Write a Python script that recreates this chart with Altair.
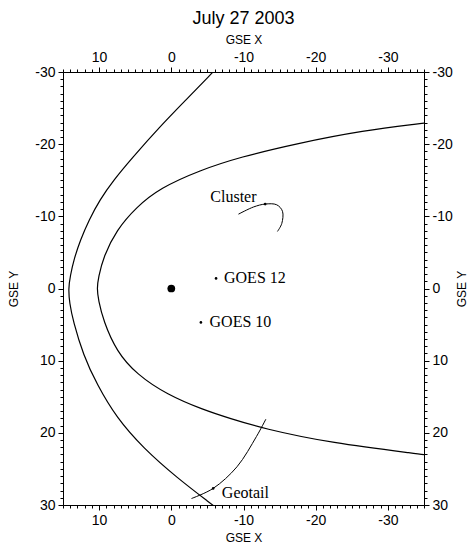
import altair as alt
import pandas as pd

# Bow shock (GSE X, GSE Y), top to bottom
bow_x = [-6.4, -5.6, -2.0, 1.6, 5.5, 8.0, 9.9, 11.4, 12.6, 13.5, 14.0, 14.25, 14.1, 13.6, 12.2, 10.3, 7.6, 3.9, -0.75, -5.6, -6.5]
bow_y = [-30.7, -29.8, -26.1, -22.4, -18.0, -15.0, -12.3, -9.5, -6.7, -4.0, -1.7, 0.0, 2.0, 4.5, 9.2, 13.3, 17.9, 22.1, 26.2, 29.9, 30.6]

# Magnetopause
mp_x = [-35.5, -34.9, -26.6, -17.4, -9.5, -4.0, 1.6, 4.8, 7.6, 9.4, 10.1, 10.3, 10.1, 9.4, 7.6, 4.8, 0.6, -4.4, -8.1, -12.7, -22.0, -34.9, -35.5]
mp_y = [-23.0, -22.9, -21.9, -20.1, -18.2, -16.4, -13.9, -11.3, -8.1, -4.4, -1.5, 0.0, 1.6, 4.5, 8.7, 11.9, 14.7, 16.8, 18.0, 19.4, 21.4, 23.0, 23.1]

# Geotail track
geo_x = [-2.8, -5.8, -9.1, -11.8, -13.1]
geo_y = [29.1, 27.7, 24.7, 20.5, 18.1]

# Cluster track
clu_x = [-9.3, -11.4, -13.0, -14.6, -15.4, -15.3, -14.7]
clu_y = [-10.3, -11.3, -11.7, -11.6, -10.7, -9.0, -7.9]

# small position dots
dot_x = [-6.2, -4.1, -5.8, -13.0]
dot_y = [-1.4, 4.7, 27.7, -11.7]

# Earth
earth_x = [0.0]
earth_y = [0.0]

# labels
lab_text = ["Cluster", "GOES 12", "GOES 10", "Geotail"]
lab_x = [-5.4, -7.3, -5.3, -7.0]
lab_y = [-12.7, -1.4, 4.7, 28.4]

# axis tick values: minor every unit, major every ten
x_ticks = list(range(-35, 16))
y_ticks = list(range(-30, 31))
x_major = [10, 0, -10, -20, -30]
y_major = [-30, -20, -10, 0, 10, 20, 30]


def curve(name, xs, ys):
    return pd.DataFrame({"x": xs, "y": ys, "i": list(range(len(xs))), "name": name})


curves = pd.concat([
    curve("bow", bow_x, bow_y),
    curve("mp", mp_x, mp_y),
])
tracks = pd.concat([
    curve("geotail", geo_x, geo_y),
    curve("cluster", clu_x, clu_y),
])
dots = pd.DataFrame({"x": dot_x, "y": dot_y})
earth = pd.DataFrame({"x": earth_x, "y": earth_y})
labels = pd.DataFrame({"x": lab_x, "y": lab_y, "t": lab_text})

xs = alt.Scale(domain=[-35, 15], reverse=True, nice=False, zero=False)
ys = alt.Scale(domain=[-30, 30], reverse=True, nice=False, zero=False)

lab_expr = "datum.value % 10 === 0 ? '' + datum.value : ''"

style = dict(
    grid=False,
    domainColor="black",
    tickColor="black",
    labelColor="black",
    titleColor="black",
    tickWidth=1,
    labelFont="Liberation Sans",
    labelFontSize=14,
    titleFont="Liberation Sans",
    titleFontSize=12,
    titleFontWeight="normal",
)

minor = dict(labelExpr=lab_expr, tickSize=3, labelPadding=5, labelOverlap=False, **style)
major = dict(tickSize=5, labels=False, domain=False, title=None, **style)


def xaxis(orient, tp):
    return alt.Axis(orient=orient, values=x_ticks, title="GSE X",
                    labelFlush=False, titlePadding=tp, **minor)


def yaxis(orient, tp, **kw):
    return alt.Axis(orient=orient, values=y_ticks, title="GSE Y",
                    titlePadding=tp, **minor, **kw)


def xmajor(orient):
    return alt.Axis(orient=orient, values=x_major, **major)


def ymajor(orient):
    return alt.Axis(orient=orient, values=y_major, **major)


base_curves = alt.Chart(curves).mark_line(color="black", strokeWidth=1.2, clip=True, interpolate="basis")

layer_a = base_curves.transform_filter("datum.name === 'bow'").encode(
    x=alt.X("x:Q", scale=xs, axis=xaxis("bottom", 5)),
    y=alt.Y("y:Q", scale=ys, axis=yaxis("left", 14)),
    order="i:Q",
)
layer_b = base_curves.transform_filter("datum.name === 'mp'").encode(
    x=alt.X("x:Q", scale=xs, axis=xaxis("top", 4)),
    y=alt.Y("y:Q", scale=ys, axis=yaxis("right", 4, titleAngle=270, titleBaseline="top")),
    order="i:Q",
)

track_layer = alt.Chart(tracks).mark_line(color="black", strokeWidth=1, interpolate="catmull-rom").encode(
    x=alt.X("x:Q", scale=xs, axis=xmajor("bottom")),
    y=alt.Y("y:Q", scale=ys, axis=ymajor("left")),
    order="i:Q",
    detail="name:N",
)

dot_layer = alt.Chart(dots).mark_circle(color="black", size=7, opacity=1).encode(
    x=alt.X("x:Q", scale=xs, axis=xmajor("top")),
    y=alt.Y("y:Q", scale=ys, axis=ymajor("right")),
)

earth_layer = alt.Chart(earth).mark_circle(color="black", size=60, opacity=1).encode(
    x=alt.X("x:Q", scale=xs, axis=None),
    y=alt.Y("y:Q", scale=ys, axis=None),
)

text_layer = alt.Chart(labels).mark_text(align="left", baseline="middle", font="Liberation Serif",
                                         fontSize=16, color="black").encode(
    x=alt.X("x:Q", scale=xs, axis=None),
    y=alt.Y("y:Q", scale=ys, axis=None),
    text="t:N",
)

chart = alt.layer(layer_a, layer_b, track_layer, dot_layer, earth_layer, text_layer).resolve_axis(
    x="independent", y="independent"
).properties(
    width=361,
    height=433,
    title=alt.TitleParams("July 27 2003", font="Liberation Sans", fontSize=18, fontWeight="normal",
                          color="black", frame="group", anchor="middle", offset=5),
    autosize=alt.AutoSizeParams(type="none"),
    padding={"left": 55, "top": 64, "right": 44, "bottom": 38},
).configure_view(stroke=None)

chart.save("out.html", embed_options={"renderer": "svg", "actions": False})
